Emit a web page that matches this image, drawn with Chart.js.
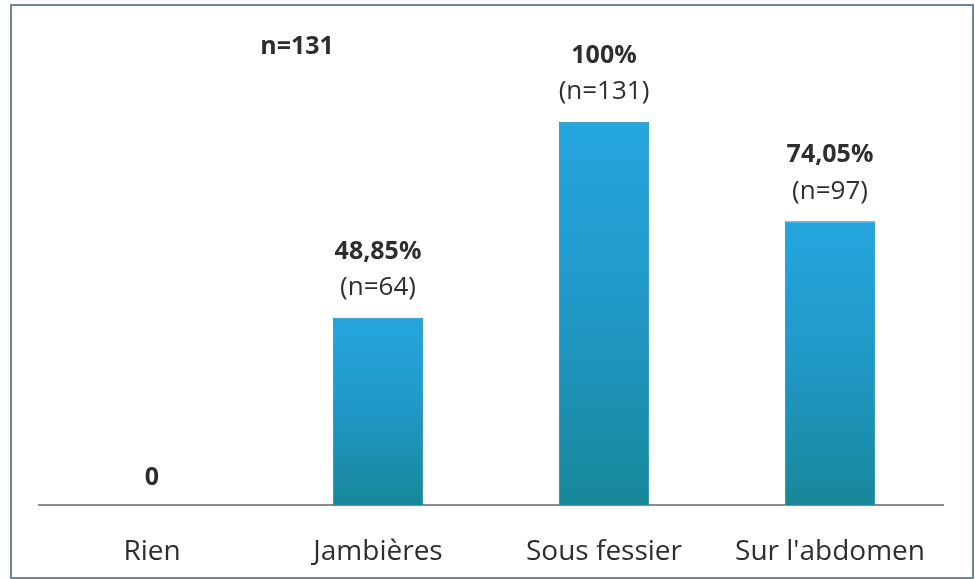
<!DOCTYPE html>
<html>
<head>
<meta charset="utf-8">
<script src="https://cdn.jsdelivr.net/npm/chart.js@4/dist/chart.umd.min.js"></script>
<style>
  html,body{margin:0;padding:0;background:#fff;}
  #wrap{position:relative;width:975px;height:579px;}
</style>
</head>
<body>
<div id="wrap"><canvas id="chart" width="975" height="579"></canvas></div>
<script>
// data
const categories = ['Rien', 'Jambières', 'Sous fessier', "Sur l'abdomen"];
const percentValues = [0, 48.85, 100, 74.05];
const percentLabels = ['0', '48,85%', '100%', '74,05%'];
const countLabels = ['', '(n=64)', '(n=131)', '(n=97)'];
const sampleNote = 'n=131';

const FONT = '"Open Sans", Lato, sans-serif';
const TXT = '#2e2e2e';

function barFill(c){
  const chart = c.chart;
  const area = chart.chartArea;
  if(!area || !chart.scales.y) return '#2aa5d9';
  const top = chart.scales.y.getPixelForValue(percentValues[c.dataIndex]);
  const g = chart.ctx.createLinearGradient(0, top, 0, area.bottom);
  g.addColorStop(0, '#24a6de');
  g.addColorStop(0.5, '#2098c6');
  g.addColorStop(1, '#178799');
  return g;
}

const frame = {
  id:'frame',
  beforeDraw(chart){
    const c = chart.ctx;
    c.save();
    c.strokeStyle = '#6a8896';
    c.lineWidth = 2;
    c.strokeRect(11, 5, 962, 573);
    c.restore();
  }
};

const valueLabels = {
  id:'valueLabels',
  afterDatasetsDraw(chart){
    const c = chart.ctx;
    const meta = chart.getDatasetMeta(0);
    c.save();
    c.fillStyle = TXT;
    c.textAlign = 'center';
    c.textBaseline = 'middle';
    meta.data.forEach((bar, i) => {
      if(countLabels[i]){
        c.font = 'bold 25px ' + FONT;
        c.fillText(percentLabels[i], bar.x, bar.y - 66);
        c.font = '26px ' + FONT;
        c.fillText(countLabels[i], bar.x, bar.y - 30);
      } else {
        c.font = 'bold 25px ' + FONT;
        c.fillText(percentLabels[i], bar.x, bar.y - 27);
      }
    });
    c.font = 'bold 25px ' + FONT;
    c.fillText(sampleNote, 297, 47);
    c.restore();
  }
};

new Chart(document.getElementById('chart'), {
  type:'bar',
  data:{
    labels: categories,
    datasets:[{
      data: percentValues,
      backgroundColor: barFill,
      borderColor: '#1d86a6',
      borderWidth: 1,
      barPercentage: 0.4,
      categoryPercentage: 1
    }]
  },
  options:{
    responsive:false,
    animation:false,
    layout:{padding:{left:39, right:32, top:26, bottom:0}},
    plugins:{legend:{display:false}, tooltip:{enabled:false}},
    scales:{
      y:{display:false, min:0, max:125},
      x:{
        grid:{display:false},
        border:{display:true, color:'#8c8c8c', width:2},
        ticks:{color:TXT, font:{family:FONT, size:28}, padding:22},
        afterFit(scale){ scale.height = 74; }
      }
    }
  },
  plugins:[frame, valueLabels]
});
</script>
</body>
</html>
